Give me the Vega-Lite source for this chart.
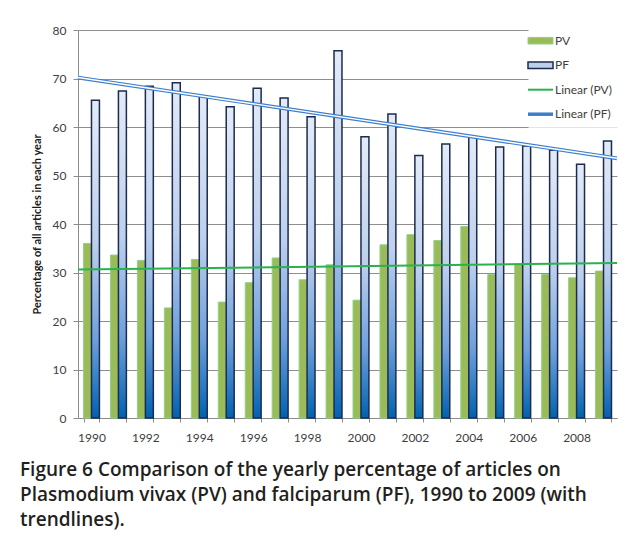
{
  "$schema": "https://vega.github.io/schema/vega-lite/v6.json",
  "width": 539,
  "height": 388,
  "autosize": "none",
  "padding": {"left": 78, "top": 30, "right": 17, "bottom": 124},
  "background": "white",
  "config": {
    "view": {"stroke": null},
    "font": "Lato"
  },
  "title": {
    "text": [
      "Figure 6 Comparison of the yearly percentage of articles on",
      "Plasmodium vivax (PV) and falciparum (PF), 1990 to 2009 (with",
      "trendlines)."
    ],
    "orient": "bottom",
    "anchor": "start",
    "frame": "group",
    "dx": -58,
    "offset": 18,
    "font": "Open Sans",
    "fontSize": 19,
    "fontWeight": 600,
    "color": "#231f20",
    "lineHeight": 25
  },
  "datasets": {
    "bars": [
      {"year": 1990, "series": "PV", "value": 36.0},
      {"year": 1991, "series": "PV", "value": 33.6},
      {"year": 1992, "series": "PV", "value": 32.5},
      {"year": 1993, "series": "PV", "value": 22.7},
      {"year": 1994, "series": "PV", "value": 32.7},
      {"year": 1995, "series": "PV", "value": 23.9},
      {"year": 1996, "series": "PV", "value": 27.9},
      {"year": 1997, "series": "PV", "value": 33.0},
      {"year": 1998, "series": "PV", "value": 28.5},
      {"year": 1999, "series": "PV", "value": 31.6},
      {"year": 2000, "series": "PV", "value": 24.3},
      {"year": 2001, "series": "PV", "value": 35.7},
      {"year": 2002, "series": "PV", "value": 37.8},
      {"year": 2003, "series": "PV", "value": 36.6},
      {"year": 2004, "series": "PV", "value": 39.5},
      {"year": 2005, "series": "PV", "value": 29.6},
      {"year": 2006, "series": "PV", "value": 31.7},
      {"year": 2007, "series": "PV", "value": 29.6},
      {"year": 2008, "series": "PV", "value": 28.9},
      {"year": 2009, "series": "PV", "value": 30.3},
      {"year": 1990, "series": "PF", "value": 65.5},
      {"year": 1991, "series": "PF", "value": 67.4},
      {"year": 1992, "series": "PF", "value": 68.4},
      {"year": 1993, "series": "PF", "value": 69.1},
      {"year": 1994, "series": "PF", "value": 66.4},
      {"year": 1995, "series": "PF", "value": 64.2},
      {"year": 1996, "series": "PF", "value": 68.0},
      {"year": 1997, "series": "PF", "value": 66.0},
      {"year": 1998, "series": "PF", "value": 62.1},
      {"year": 1999, "series": "PF", "value": 75.7},
      {"year": 2000, "series": "PF", "value": 58.0},
      {"year": 2001, "series": "PF", "value": 62.7},
      {"year": 2002, "series": "PF", "value": 54.1},
      {"year": 2003, "series": "PF", "value": 56.5},
      {"year": 2004, "series": "PF", "value": 58.0},
      {"year": 2005, "series": "PF", "value": 55.9},
      {"year": 2006, "series": "PF", "value": 56.1},
      {"year": 2007, "series": "PF", "value": 55.2},
      {"year": 2008, "series": "PF", "value": 52.3},
      {"year": 2009, "series": "PF", "value": 57.1}
    ],
    "trends": [
      {"series": "Linear (PV)", "tx": 1989.5, "ty": 30.6},
      {"series": "Linear (PV)", "tx": 2009.5, "ty": 31.95},
      {"series": "Linear (PF)", "tx": 1989.5, "ty": 70.2},
      {"series": "Linear (PF)", "tx": 2009.5, "ty": 53.55}
    ]
  },
  "layer": [
    {
      "data": {"name": "bars"},
      "mark": {"type": "bar"},
      "encoding": {
        "x": {
          "field": "year",
          "type": "ordinal",
          "scale": {"paddingInner": 0.41, "paddingOuter": 0.205},
          "axis": {
            "title": null,
            "labelAngle": 0,
            "labelExpr": "datum.value % 2 == 0 ? datum.label : ''",
            "tickBand": "extent",
            "tickSize": 4,
            "tickColor": "#8c8c8c",
            "domainColor": "#8c8c8c",
            "labelFont": "Lato",
            "labelFontSize": 12,
            "labelColor": "#404040",
            "labelPadding": 10,
            "grid": false
          }
        },
        "xOffset": {
          "field": "series",
          "type": "nominal",
          "scale": {"domain": ["PV", "PF"], "paddingInner": 0}
        },
        "y": {
          "field": "value",
          "type": "quantitative",
          "scale": {"domain": [0, 80], "nice": false},
          "axis": {
            "title": "Percentage of all articles in each year",
            "titleFont": "Lato",
            "titleFontSize": 11,
            "titleFontWeight": "bold",
            "titleColor": "#1a1a1a",
            "titlePadding": 10,
            "values": [0, 10, 20, 30, 40, 50, 60, 70, 80],
            "tickSize": 5,
            "tickColor": "#8c8c8c",
            "domainColor": "#8c8c8c",
            "gridColor": "#8e8e8e",
            "labelFont": "Lato",
            "labelFontSize": 12,
            "labelColor": "#404040",
            "labelPadding": 7
          }
        },
        "fill": {
          "condition": {
            "test": "datum.series == 'PF'",
            "value": {
              "gradient": "linear",
              "x1": 0, "y1": 0, "x2": 0, "y2": 1,
              "stops": [
                {"offset": 0, "color": "#e3ebf7"},
                {"offset": 0.45, "color": "#bccfec"},
                {"offset": 0.75, "color": "#6fa0dc"},
                {"offset": 1, "color": "#0062b0"}
              ]
            }
          },
          "value": "#9bbb59"
        },
        "stroke": {
          "condition": {"test": "datum.series == 'PF'", "value": "#1d2b4f"},
          "value": "#8ed38a"
        },
        "strokeWidth": {
          "condition": {"test": "datum.series == 'PF'", "value": 1.5},
          "value": 1
        }
      }
    },
    {
      "data": {"name": "trends"},
      "encoding": {
        "x": {
          "field": "tx",
          "type": "quantitative",
          "scale": {"domain": [1989.5, 2009.5], "nice": false, "zero": false},
          "axis": null
        },
        "y": {"field": "ty", "type": "quantitative"}
      },
      "layer": [
        {
          "mark": {"type": "line"},
          "encoding": {
            "color": {
              "field": "series",
              "type": "nominal",
              "scale": {
                "domain": ["PV", "PF", "Linear (PV)", "Linear (PF)"],
                "range": ["#8ed38a", "#1d2b4f", "#2ab24d", "#3d7fce"]
              },
              "legend": {
                "title": null,
                "orient": "none",
                "legendX": 450.5,
                "legendY": -1.3,
                "padding": 6,
                "fillColor": "white",
                "symbolSize": 400,
                "labelOffset": 8.5,
                "rowPadding": 11.5,
                "labelFont": "Lato",
                "labelFontSize": 12,
                "labelColor": "#404040",
                "encode": {
                  "symbols": {
                    "update": {
                      "shape": {"signal": "datum.value == 'PV' || datum.value == 'PF' ? 'M-1.25,-0.33H1.25V0.33H-1.25Z' : 'M-1.25,0H1.25'"},
                      "fill": {"signal": "datum.value == 'PV' ? '#9bbb59' : datum.value == 'PF' ? '#bcd0ec' : 'transparent'"},
                      "strokeWidth": {"signal": "datum.value == 'PF' ? 1.5 : datum.value == 'Linear (PF)' ? 3.5 : datum.value == 'Linear (PV)' ? 2 : 1"},
                      "opacity": {"value": 1}
                    }
                  }
                }
              }
            },
            "strokeWidth": {
              "condition": {"test": "datum.series == 'Linear (PF)'", "value": 3.8},
              "value": 2
            }
          }
        },
        {
          "transform": [{"filter": "datum.series == 'Linear (PF)'"}],
          "mark": {"type": "line", "color": "white", "strokeWidth": 1.4}
        }
      ]
    }
  ],
  "resolve": {"scale": {"x": "independent"}}
}
